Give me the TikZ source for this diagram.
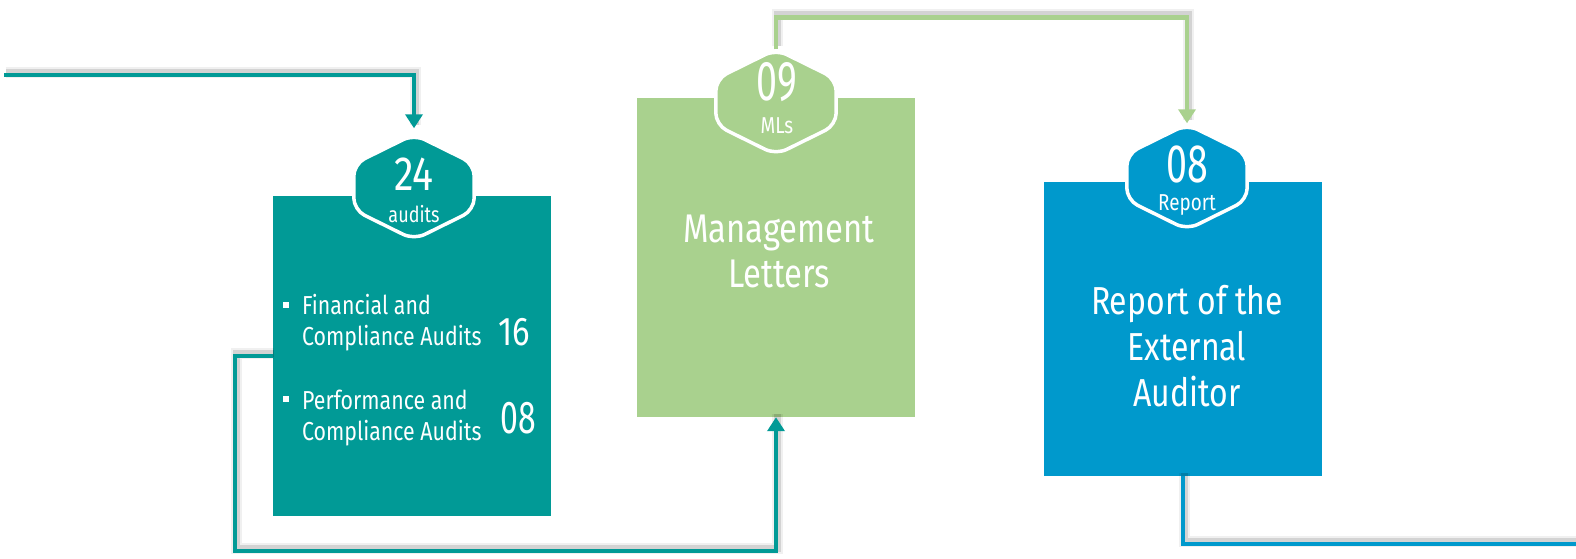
\documentclass[tikz,border=0pt]{standalone}
\usepackage{fontspec}
\setmainfont{Fira Sans}[FakeStretch=0.82]
\usetikzlibrary{arrows.meta,positioning}
\definecolor{auditTeal}{HTML}{019A96}
\definecolor{letterGreen}{HTML}{A9D18E}
\definecolor{reportBlue}{HTML}{0099CC}

\newcommand\fsz[2]{\fontsize{#1}{#2}\selectfont}
\newcommand\bul{\llap{\raisebox{7pt}{\rule{6pt}{6pt}}\hspace{13pt}}}
% white-rimmed hexagon over a badge node
\newcommand\hexrim[2]{%
  \draw[rim, fill=#2] (#1.west) -- ([yshift=23pt]#1.west) -- (#1.north)
    -- ([yshift=23pt]#1.east) -- ([yshift=-23pt]#1.east) -- (#1.south)
    -- ([yshift=-23pt]#1.west) -- cycle;}

\tikzset{
  panel/.style={inner sep=0pt, minimum width=278pt},
  badge/.style={inner sep=0pt, minimum width=120pt, minimum height=105pt},
  rim/.style={draw=white, line width=3.5pt, rounded corners=12pt},
  flow/.style={line width=4.5pt, -{Triangle[width=17pt,length=14pt]},
    preaction={draw=black, line width=11pt, opacity=0.06, arrows=-,
      transform canvas={shift={(1.5pt,3pt)}}},
    preaction={draw=black, line width=7pt, opacity=0.12, arrows=-,
      transform canvas={shift={(1.5pt,3pt)}}}},
  wtext/.style={text=white, inner sep=0pt, align=center},
  item/.style={wtext, align=left, anchor=west, font=\fsz{26}{31}},
}

\begin{document}
\begin{tikzpicture}[x=1pt, y=-1pt]
  \useasboundingbox (0,0) rectangle (1576,558);

  % panels
  \node[panel, fill=auditTeal, minimum height=320pt] (audits) at (412,356) {};
  \node[panel, fill=letterGreen, minimum height=319pt] (letters) at (776,257.5) {};
  \node[panel, fill=reportBlue, minimum height=294pt] (report) at (1183,329) {};

  % badge frames
  \node[badge] (audhex) at (414,187) {};
  \node[badge] (mlhex) at (776,102) {};
  \node[badge] (rephex) at (1187,177) {};

  % connectors
  \coordinate (entry) at (4,75);
  \coordinate (exit) at (1580,544);
  \draw[flow, auditTeal, shorten >=6pt] (entry) -| (audhex.north);
  \draw[flow, auditTeal] (audits.west) -- ++(-38,0) -- ++(0,195) -| (letters.south);
  \draw[flow, letterGreen, shorten >=1pt] (mlhex.north) -- ++(0,-32) -| (rephex.north);
  \draw[flow, arrows=-, reportBlue] (report.south) |- (exit);

  \hexrim{audhex}{auditTeal}
  \hexrim{mlhex}{letterGreen}
  \hexrim{rephex}{reportBlue}

  % badge texts
  \node[wtext, font=\fsz{48}{48}] (audnum) at (414,174) {24};
  \node[wtext, font=\fsz{22}{22}] (audlbl) at (414,214) {audits};
  \node[wtext, font=\fsz{56}{56}] (mlnum) at (777,82) {\scalebox{0.82}[1]{09}};
  \node[wtext, font=\fsz{23}{23}] (mllbl) at (777,126) {MLs};
  \node[wtext, font=\fsz{54}{54}] (repnum) at (1187,164) {\scalebox{0.85}[1]{08}};
  \node[wtext, font=\fsz{23}{23}] (replbl) at (1187,205) {Report};

  % panel texts
  \node[item] (finitem) at (302,323) {\bul Financial and\\Compliance Audits};
  \node[item] (perfitem) at (302,418) {\bul Performance and\\Compliance Audits};
  \node[wtext, font=\fsz{40}{40}] (fincount) at (514,332) {16};
  \node[wtext, font=\fsz{46}{46}] (perfcount) at (518,418) {\scalebox{0.85}[1]{08}};
  \node[wtext, font=\fsz{40}{45}] (lettext) at (779,251) {Management\\Letters};
  \node[wtext, font=\fsz{39}{46}] (reptext) at (1187,346) {Report of the\\External\\Auditor};
\end{tikzpicture}
\end{document}
